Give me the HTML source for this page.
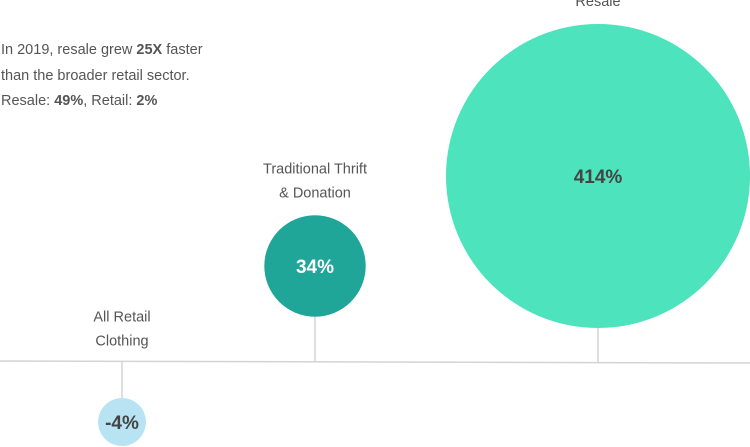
<!DOCTYPE html>
<html><head><meta charset="utf-8">
<style>
body{margin:0;background:#fff;}
svg{display:block;font-family:"Liberation Sans",sans-serif;}
</style></head>
<body>
<svg width="750" height="447" viewBox="0 0 750 447">
<g fill="#555" font-size="14.5">
<text x="1" y="54">In 2019, resale grew <tspan font-weight="bold">25X</tspan> faster</text>
<text x="1" y="80">than the broader retail sector.</text>
<text x="1" y="105">Resale: <tspan font-weight="bold">49%</tspan>, Retail: <tspan font-weight="bold">2%</tspan></text>
</g>
<line x1="0" y1="361" x2="750" y2="363" stroke="#d4d4d4" stroke-width="1.5"/>
<g id="bubbles"></g>
</svg>
<script>
const categories = ["All Retail Clothing", "Traditional Thrift & Donation", "Resale"];
const values = [-4, 34, 414];
const valueLabels = ["-4%", "34%", "414%"];
const labelLines = [["All Retail","Clothing"],["Traditional Thrift","& Donation"],["Resale"]];
const colors = ["#b8e3f3", "#1fa698", "#4de3bd"];
// layout
const cx = [122, 315, 598];
const cy = [422, 266, 176];
const lineY = x => 361 + 2*x/750;
const rScale = v => 10 + 6.98*Math.sqrt(Math.abs(v));
const g = document.getElementById('bubbles');
const NS = "http://www.w3.org/2000/svg";
categories.forEach((c,i)=>{
  const r = rScale(values[i]);
  const grp = document.createElementNS(NS,'g');
  
  
  const ly = lineY(cx[i]);
  const stem = document.createElementNS(NS,'line');
  
  
  stem.setAttribute('x1', cx[i]); stem.setAttribute('x2', cx[i]);
  stem.setAttribute('y1', ly);
  stem.setAttribute('y2', values[i] < 0 ? cy[i]-r : cy[i]+r);
  stem.setAttribute('stroke', '#d4d4d4'); stem.setAttribute('stroke-width', '1.5');
  grp.appendChild(stem);
  const circ = document.createElementNS(NS,'circle');
  
  
  circ.setAttribute('cx', cx[i]); circ.setAttribute('cy', cy[i]); circ.setAttribute('r', r);
  circ.setAttribute('fill', colors[i]);
  grp.appendChild(circ);
  const vt = document.createElementNS(NS,'text');
  
  
  vt.setAttribute('x', cx[i]); vt.setAttribute('y', cy[i]+7);
  vt.setAttribute('text-anchor', 'middle'); vt.setAttribute('font-weight', 'bold');
  vt.setAttribute('font-size', '19');
  vt.setAttribute('fill', i===1 ? '#ffffff' : '#444');
  vt.textContent = valueLabels[i];
  grp.appendChild(vt);
  const lines = labelLines[i];
  const baseTop = values[i] < 0 ? ly - 40 : cy[i] - r - 18 - (lines.length-1)*24;
  lines.forEach((t,j)=>{
    const lt = document.createElementNS(NS,'text');
    
    
    lt.setAttribute('x', cx[i]);
    lt.setAttribute('y', baseTop + j*24);
    lt.setAttribute('text-anchor', 'middle');
    lt.setAttribute('font-size', '14.5');
    lt.setAttribute('fill', '#555');
    lt.textContent = t;
    grp.appendChild(lt);
  });
  g.appendChild(grp);
});
</script>
</body></html>
